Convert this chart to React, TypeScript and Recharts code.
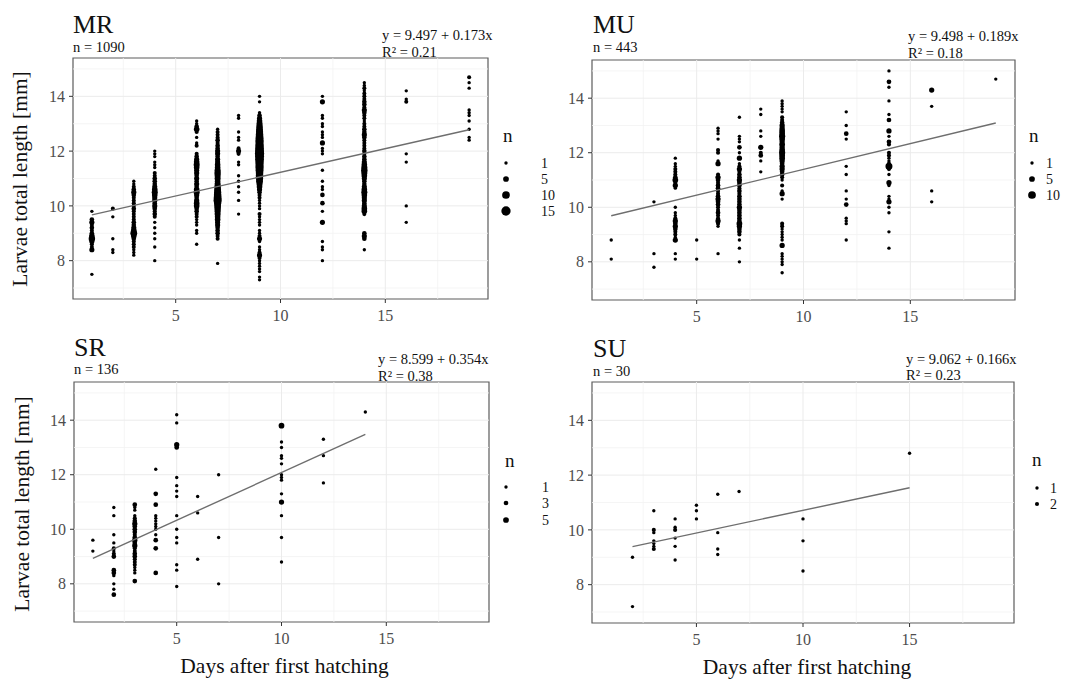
import React from "react";
import {
  ScatterChart,
  Scatter,
  XAxis,
  YAxis,
  ZAxis,
  ReferenceLine,
  ReferenceArea,
} from "recharts";

type Column = [number, [number, number][]];

// axis setup shared by all four panels
const xTicks = [5, 10, 15];
const yTicks = [8, 10, 12, 14];
const xMinor = [2.5, 7.5, 12.5, 17.5];
const yMinor = [7, 9, 11, 13, 15];
const xDomain = [0.1, 19.9];
const yDomain = [6.6, 15.4];
const nDomain = [1, 15];
const sizeRange = [9, 68];

// [day, [[length mm, n], ...]]
const mrColumns: Column[] = [
  [1, [[7.5, 1], [8.4, 4], [8.5, 2], [8.6, 2], [8.7, 4], [8.8, 7], [8.9, 5], [9.0, 3], [9.1, 2], [9.2, 3], [9.3, 2], [9.4, 4], [9.5, 3], [9.8, 1]]],
  [2, [[8.3, 1], [8.4, 1], [8.8, 1], [9.6, 1], [9.9, 2]]],
  [3, [[8.2, 1], [8.3, 1], [8.4, 1], [8.5, 2], [8.6, 2], [8.7, 2], [8.8, 3], [8.9, 5], [9.0, 8], [9.1, 5], [9.2, 4], [9.3, 3], [9.4, 3], [9.5, 2], [9.6, 2], [9.7, 2], [9.8, 2], [9.9, 3], [10.0, 2], [10.1, 2], [10.2, 2], [10.3, 2], [10.4, 3], [10.5, 4], [10.6, 3], [10.7, 2], [10.8, 1], [10.9, 1]]],
  [4, [[8.0, 1], [8.5, 1], [8.8, 1], [9.0, 1], [9.2, 1], [9.4, 1], [9.6, 2], [9.7, 3], [9.8, 2], [9.9, 3], [10.0, 4], [10.1, 3], [10.2, 4], [10.3, 4], [10.4, 5], [10.5, 6], [10.6, 5], [10.7, 4], [10.8, 3], [10.9, 3], [11.0, 3], [11.1, 2], [11.2, 2], [11.4, 1], [11.5, 1], [11.6, 1], [11.8, 1], [11.9, 1], [12.0, 1]]],
  [6, [[8.6, 1], [9.0, 1], [9.1, 1], [9.3, 1], [9.4, 1], [9.5, 1], [9.6, 2], [9.7, 2], [9.8, 3], [9.9, 3], [10.0, 5], [10.1, 5], [10.2, 4], [10.3, 3], [10.4, 4], [10.5, 6], [10.6, 5], [10.7, 3], [10.8, 4], [10.9, 3], [11.0, 4], [11.1, 3], [11.2, 4], [11.3, 4], [11.4, 5], [11.5, 6], [11.6, 5], [11.7, 4], [11.8, 3], [11.9, 2], [12.2, 2], [12.3, 1], [12.5, 1], [12.7, 2], [12.8, 5], [12.9, 3], [13.0, 1], [13.1, 1]]],
  [7, [[7.9, 1], [8.8, 2], [8.9, 2], [9.0, 3], [9.1, 3], [9.2, 3], [9.3, 4], [9.4, 4], [9.5, 5], [9.6, 5], [9.7, 6], [9.8, 6], [9.9, 7], [10.0, 8], [10.1, 9], [10.2, 12], [10.3, 11], [10.4, 10], [10.5, 9], [10.6, 8], [10.7, 7], [10.8, 6], [10.9, 5], [11.0, 6], [11.1, 6], [11.2, 7], [11.3, 6], [11.4, 5], [11.5, 5], [11.6, 4], [11.7, 4], [11.8, 3], [11.9, 4], [12.0, 4], [12.1, 3], [12.2, 3], [12.3, 2], [12.4, 3], [12.5, 2], [12.6, 2], [12.7, 2], [12.8, 1]]],
  [8, [[9.7, 1], [10.2, 1], [10.5, 1], [10.7, 1], [10.9, 1], [11.1, 1], [11.5, 1], [11.6, 1], [11.9, 2], [12.0, 4], [12.1, 2], [12.4, 1], [12.5, 1], [12.7, 1], [13.2, 1], [13.3, 1]]],
  [9, [[7.3, 1], [7.4, 1], [7.6, 1], [7.7, 1], [7.8, 1], [7.9, 1], [8.0, 1], [8.1, 2], [8.2, 4], [8.3, 2], [8.4, 1], [8.5, 1], [8.7, 1], [8.8, 4], [8.9, 2], [9.0, 1], [9.1, 1], [9.3, 1], [9.4, 1], [9.5, 1], [9.6, 1], [9.7, 2], [9.9, 1], [10.0, 1], [10.1, 1], [10.2, 1], [10.3, 2], [10.4, 2], [10.5, 3], [10.6, 4], [10.7, 5], [10.8, 6], [10.9, 8], [11.0, 9], [11.1, 10], [11.2, 10], [11.3, 11], [11.4, 12], [11.5, 12], [11.6, 13], [11.7, 14], [11.8, 15], [11.9, 16], [12.0, 15], [12.1, 14], [12.2, 13], [12.3, 12], [12.4, 12], [12.5, 11], [12.6, 10], [12.7, 9], [12.8, 8], [12.9, 7], [13.0, 6], [13.1, 5], [13.2, 4], [13.3, 3], [13.4, 1], [13.8, 1], [14.0, 1]]],
  [12, [[8.0, 1], [8.4, 1], [8.5, 1], [8.7, 1], [9.4, 4], [9.8, 1], [10.1, 3], [10.4, 3], [10.6, 1], [10.7, 1], [10.9, 1], [11.3, 1], [11.9, 1], [12.0, 1], [12.1, 1], [12.3, 4], [12.5, 1], [12.6, 1], [12.7, 1], [12.9, 1], [13.0, 1], [13.2, 1], [13.3, 1], [13.8, 4], [14.0, 1]]],
  [14, [[8.4, 1], [8.8, 3], [8.9, 4], [9.0, 3], [9.7, 2], [9.8, 5], [9.9, 5], [10.0, 4], [10.1, 3], [10.2, 4], [10.3, 4], [10.4, 5], [10.5, 6], [10.6, 5], [10.7, 4], [10.8, 3], [10.9, 3], [11.0, 4], [11.1, 5], [11.2, 6], [11.3, 7], [11.4, 6], [11.5, 5], [11.6, 4], [11.7, 3], [11.8, 3], [11.9, 2], [12.0, 3], [12.1, 2], [12.2, 2], [12.3, 2], [12.4, 2], [12.5, 3], [12.6, 4], [12.7, 3], [12.8, 3], [12.9, 2], [13.0, 2], [13.1, 1], [13.2, 2], [13.3, 2], [13.4, 3], [13.5, 4], [13.6, 2], [13.7, 3], [13.8, 3], [13.9, 2], [14.0, 2], [14.1, 2], [14.2, 1], [14.3, 2], [14.4, 1], [14.5, 1]]],
  [16, [[9.4, 1], [10.0, 1], [11.6, 1], [11.9, 1], [13.8, 2], [13.9, 1], [14.2, 1]]],
  [19, [[12.4, 1], [12.5, 1], [12.8, 1], [13.1, 1], [13.3, 1], [13.4, 1], [13.5, 1], [14.3, 1], [14.5, 1], [14.7, 2]]],
];

const muColumns: Column[] = [
  [1, [[8.1, 1], [8.8, 1]]],
  [3, [[7.8, 1], [8.3, 1], [10.2, 1]]],
  [4, [[8.1, 1], [8.3, 1], [8.8, 4], [8.9, 1], [9.0, 2], [9.1, 2], [9.2, 3], [9.3, 4], [9.4, 3], [9.5, 4], [9.6, 2], [9.7, 1], [9.8, 1], [10.0, 1], [10.7, 1], [10.8, 4], [10.9, 2], [11.0, 5], [11.1, 3], [11.2, 2], [11.3, 2], [11.4, 2], [11.5, 1], [11.6, 1], [11.8, 1]]],
  [5, [[8.1, 1], [8.8, 1]]],
  [6, [[8.3, 1], [9.3, 1], [9.4, 2], [9.5, 4], [9.6, 2], [9.7, 2], [9.8, 3], [9.9, 2], [10.0, 2], [10.1, 3], [10.2, 3], [10.3, 4], [10.4, 3], [10.5, 2], [10.6, 2], [10.7, 3], [10.8, 3], [10.9, 2], [11.0, 3], [11.1, 4], [11.2, 2], [11.6, 4], [11.7, 1], [12.0, 2], [12.1, 2], [12.5, 1], [12.7, 1], [12.8, 1], [12.9, 1]]],
  [7, [[8.0, 1], [8.5, 1], [8.8, 1], [9.0, 2], [9.1, 3], [9.2, 3], [9.3, 4], [9.4, 5], [9.5, 3], [9.6, 3], [9.7, 3], [9.8, 3], [9.9, 3], [10.0, 4], [10.1, 3], [10.2, 3], [10.3, 3], [10.4, 3], [10.5, 2], [10.6, 3], [10.7, 2], [10.8, 3], [10.9, 3], [11.0, 4], [11.1, 3], [11.2, 3], [11.3, 2], [11.4, 4], [11.5, 2], [11.6, 1], [11.8, 4], [12.0, 1], [12.2, 3], [12.4, 1], [12.5, 1], [12.6, 1], [13.3, 1]]],
  [8, [[11.3, 1], [11.7, 1], [11.9, 3], [12.0, 2], [12.2, 4], [12.6, 1], [12.8, 1], [13.4, 1], [13.6, 1]]],
  [9, [[7.6, 1], [7.9, 1], [8.0, 1], [8.1, 1], [8.2, 1], [8.3, 1], [8.6, 4], [8.8, 1], [8.9, 1], [9.0, 1], [9.1, 1], [9.2, 1], [9.3, 2], [9.4, 2], [10.3, 1], [10.5, 4], [10.6, 1], [10.8, 2], [11.0, 1], [11.1, 2], [11.2, 3], [11.3, 3], [11.4, 4], [11.5, 4], [11.6, 3], [11.7, 4], [11.8, 5], [11.9, 5], [12.0, 6], [12.1, 5], [12.2, 4], [12.3, 5], [12.4, 4], [12.5, 5], [12.6, 6], [12.7, 5], [12.8, 5], [12.9, 4], [13.0, 4], [13.1, 3], [13.2, 2], [13.3, 2], [13.5, 1], [13.6, 1], [13.7, 1], [13.8, 1], [13.9, 1]]],
  [12, [[8.8, 1], [9.4, 1], [9.5, 1], [9.6, 1], [10.1, 3], [10.3, 1], [10.6, 1], [11.2, 1], [11.5, 1], [12.5, 1], [12.7, 3], [13.0, 1], [13.5, 1]]],
  [14, [[8.5, 1], [9.1, 1], [9.8, 1], [10.0, 1], [10.2, 4], [10.3, 1], [10.4, 1], [10.8, 1], [10.9, 4], [11.2, 1], [11.4, 2], [11.5, 8], [11.6, 2], [11.7, 1], [11.8, 1], [11.9, 2], [12.0, 2], [12.3, 2], [12.4, 3], [12.6, 1], [12.8, 4], [13.2, 3], [13.4, 1], [13.9, 1], [14.4, 1], [14.6, 3], [15.0, 1]]],
  [16, [[10.2, 1], [10.6, 1], [13.7, 1], [14.3, 4]]],
  [19, [[14.7, 1]]],
];

const srColumns: Column[] = [
  [1, [[9.2, 1], [9.6, 1]]],
  [2, [[7.6, 3], [7.8, 1], [8.0, 1], [8.3, 1], [8.4, 3], [8.5, 3], [9.0, 3], [9.1, 2], [9.2, 1], [9.3, 2], [9.5, 1], [9.8, 1], [10.5, 1], [10.8, 1]]],
  [3, [[8.1, 3], [8.4, 1], [8.5, 1], [8.6, 1], [8.7, 2], [8.8, 2], [8.9, 2], [9.0, 3], [9.1, 3], [9.2, 2], [9.3, 2], [9.4, 4], [9.5, 3], [9.6, 4], [9.7, 3], [9.8, 2], [9.9, 3], [10.0, 3], [10.1, 3], [10.2, 4], [10.3, 3], [10.4, 2], [10.5, 1], [10.7, 1], [10.8, 1], [10.9, 3]]],
  [4, [[8.4, 3], [9.3, 3], [9.6, 3], [9.8, 1], [10.0, 1], [10.1, 1], [10.2, 1], [10.3, 1], [10.4, 1], [10.5, 1], [10.9, 3], [11.3, 3], [12.2, 1]]],
  [5, [[7.9, 1], [8.5, 1], [8.7, 1], [9.5, 1], [9.7, 1], [10.0, 1], [10.5, 1], [11.2, 1], [11.4, 1], [11.6, 1], [11.9, 1], [13.0, 3], [13.1, 4], [13.9, 1], [14.2, 1]]],
  [6, [[8.9, 1], [10.6, 1], [11.2, 1]]],
  [7, [[8.0, 1], [9.7, 1], [12.0, 1]]],
  [10, [[8.8, 1], [9.7, 1], [10.5, 1], [11.0, 4], [11.3, 1], [11.8, 1], [11.9, 1], [12.0, 1], [12.4, 1], [12.6, 1], [12.7, 1], [13.0, 1], [13.2, 1], [13.8, 5]]],
  [12, [[11.7, 1], [12.7, 1], [13.3, 1]]],
  [14, [[14.3, 1]]],
];

const suColumns: Column[] = [
  [2, [[7.2, 1], [9.0, 1]]],
  [3, [[9.3, 2], [9.4, 1], [9.5, 1], [9.6, 1], [9.9, 1], [10.0, 2], [10.7, 1]]],
  [4, [[8.9, 1], [9.4, 1], [9.7, 1], [10.0, 2], [10.1, 1], [10.4, 1]]],
  [5, [[10.4, 1], [10.7, 1], [10.9, 1]]],
  [6, [[9.1, 1], [9.3, 1], [9.9, 1], [11.3, 1]]],
  [7, [[11.4, 1]]],
  [10, [[8.5, 1], [9.6, 1], [10.4, 1]]],
  [15, [[12.8, 1]]],
];

// fitted lines, end points
const mrFit = [{ x: 1, y: 9.67 }, { x: 19, y: 12.78 }];
const muFit = [{ x: 1, y: 9.69 }, { x: 19, y: 13.09 }];
const srFit = [{ x: 1, y: 8.93 }, { x: 14, y: 13.48 }];
const suFit = [{ x: 2, y: 9.39 }, { x: 15, y: 11.54 }];

const mrLegend = [1, 5, 10, 15];
const muLegend = [1, 5, 10];
const srLegend = [1, 3, 5];
const suLegend = [1, 2];

const SERIF = "'Liberation Serif', 'Times New Roman', serif";

function dotRadius(n: number) {
  const area =
    sizeRange[0] +
    ((n - nDomain[0]) / (nDomain[1] - nDomain[0])) * (sizeRange[1] - sizeRange[0]);
  return Math.sqrt(area / Math.PI);
}

interface PanelProps {
  columns: Column[];
  fit: { x: number; y: number }[];
  left: number;
  top: number;
  width: number;
  height: number;
  yWidth: number;
  margin: { top: number; right: number; bottom: number; left: number };
}

function Panel({ columns, fit, left, top, width, height, yWidth, margin }: PanelProps) {
  const points = columns.flatMap(([day, rows]) =>
    rows.map(([len, n]) => ({ x: day, y: len, n }))
  );
  const tickStyle = { fill: "#4d4d4d", fontSize: 16, fontFamily: SERIF };
  return (
    <div style={{ position: "absolute", left, top }}>
      <ScatterChart width={width} height={height} margin={margin}>
        {xMinor.map((v) => (
          <ReferenceLine key={"xm" + v} x={v} stroke="#f3f3f3" strokeWidth={0.8} />
        ))}
        {yMinor.map((v) => (
          <ReferenceLine key={"ym" + v} y={v} stroke="#f3f3f3" strokeWidth={0.8} />
        ))}
        {xTicks.map((v) => (
          <ReferenceLine key={"xt" + v} x={v} stroke="#ebebeb" strokeWidth={1} />
        ))}
        {yTicks.map((v) => (
          <ReferenceLine key={"yt" + v} y={v} stroke="#ebebeb" strokeWidth={1} />
        ))}
        <XAxis
          type="number"
          dataKey="x"
          domain={xDomain}
          ticks={xTicks}
          allowDataOverflow
          height={30}
          axisLine={false}
          tickLine={{ stroke: "#333" }}
          tickSize={4}
          tickMargin={7}
          tick={tickStyle}
        />
        <YAxis
          type="number"
          dataKey="y"
          domain={yDomain}
          ticks={yTicks}
          allowDataOverflow
          width={yWidth}
          axisLine={false}
          tickLine={{ stroke: "#333" }}
          tickSize={4}
          tickMargin={4}
          tick={tickStyle}
        />
        <ZAxis type="number" dataKey="n" domain={nDomain} range={sizeRange} />
        <Scatter data={points} fill="#000" isAnimationActive={false} />
        <Scatter
          data={fit}
          fill="none"
          line={{ stroke: "#6e6e6e", strokeWidth: 1.4 }}
          shape={() => <g />}
          isAnimationActive={false}
        />
        <ReferenceArea
          x1={xDomain[0]}
          x2={xDomain[1]}
          y1={yDomain[0]}
          y2={yDomain[1]}
          fill="none"
          fillOpacity={0}
          stroke="#5c5c5c"
          strokeWidth={1.2}
          ifOverflow="visible"
        />
      </ScatterChart>
    </div>
  );
}

interface HeaderProps {
  title: string;
  count: string;
  eq: string;
  r2: string;
  tx: number;
  ty: number;
  ny: number;
  ex: number;
  ey: number;
  ry: number;
}

function Header({ title, count, eq, r2, tx, ty, ny, ex, ey, ry }: HeaderProps) {
  return (
    <g fontFamily={SERIF} fill="#111">
      <text x={tx} y={ty} fontSize={26}>{title}</text>
      <text x={tx} y={ny} fontSize={14.5}>{count}</text>
      <text x={ex} y={ey} fontSize={14.5}>{eq}</text>
      <text x={ex} y={ry} fontSize={14.5}>{r2}</text>
    </g>
  );
}

interface SizeLegendProps {
  values: number[];
  nx: number;
  ny: number;
  dx: number;
  lx: number;
  ys: number[];
}

function SizeLegend({ values, nx, ny, dx, lx, ys }: SizeLegendProps) {
  return (
    <g fontFamily={SERIF} fill="#111">
      <text x={nx} y={ny} fontSize={19}>n</text>
      {values.map((v, i) => (
        <g key={v}>
          <circle cx={dx} cy={ys[i]} r={dotRadius(v)} fill="#000" />
          <text x={lx} y={ys[i] + 5} fontSize={14}>{v}</text>
        </g>
      ))}
    </g>
  );
}

export default function App() {
  return (
    <div
      style={{
        position: "fixed",
        left: 0,
        top: 0,
        width: 1072,
        height: 679,
        background: "#fff",
        overflow: "hidden",
      }}
    >
      <Panel columns={mrColumns} fit={mrFit} left={0} top={0} width={540} height={330}
        yWidth={73} margin={{ top: 58, right: 52, bottom: 1, left: 0 }} />
      <Panel columns={muColumns} fit={muFit} left={540} top={0} width={532} height={330}
        yWidth={52} margin={{ top: 60, right: 57, bottom: 0, left: 0 }} />
      <Panel columns={srColumns} fit={srFit} left={0} top={330} width={540} height={349}
        yWidth={74} margin={{ top: 52, right: 51, bottom: 27, left: 0 }} />
      <Panel columns={suColumns} fit={suFit} left={540} top={330} width={532} height={349}
        yWidth={52} margin={{ top: 52, right: 58, bottom: 26, left: 0 }} />

      <svg
        width={1072}
        height={679}
        style={{ position: "absolute", left: 0, top: 0, pointerEvents: "none" }}
      >
        <Header title="MR" count="n = 1090" eq="y = 9.497 + 0.173x" r2="R² = 0.21"
          tx={73} ty={33} ny={52} ex={382} ey={40} ry={56.5} />
        <Header title="MU" count="n = 443" eq="y = 9.498 + 0.189x" r2="R² = 0.18"
          tx={593} ty={33} ny={52} ex={908} ey={40.5} ry={57.5} />
        <Header title="SR" count="n = 136" eq="y = 8.599 + 0.354x" r2="R² = 0.38"
          tx={74} ty={356} ny={374} ex={378} ey={364} ry={380.5} />
        <Header title="SU" count="n = 30" eq="y = 9.062 + 0.166x" r2="R² = 0.23"
          tx={593} ty={356.5} ny={375.5} ex={906} ey={363.5} ry={380} />

        <SizeLegend values={mrLegend} nx={503} ny={142} dx={506} lx={541} ys={[163, 179, 195, 211]} />
        <SizeLegend values={muLegend} nx={1029} ny={142} dx={1032} lx={1046} ys={[163, 179, 195]} />
        <SizeLegend values={srLegend} nx={505} ny={467} dx={506} lx={542} ys={[487, 503, 520]} />
        <SizeLegend values={suLegend} nx={1032} ny={466} dx={1037} lx={1050} ys={[488, 504]} />

        <g fontFamily={SERIF} fill="#111" fontSize={21.5} textAnchor="middle">
          <text transform="translate(27,179) rotate(-90)">Larvae total length [mm]</text>
          <text transform="translate(29,504) rotate(-90)">Larvae total length [mm]</text>
          <text x={284.5} y={673}>Days after first hatching</text>
          <text x={807} y={674}>Days after first hatching</text>
        </g>
      </svg>
    </div>
  );
}
